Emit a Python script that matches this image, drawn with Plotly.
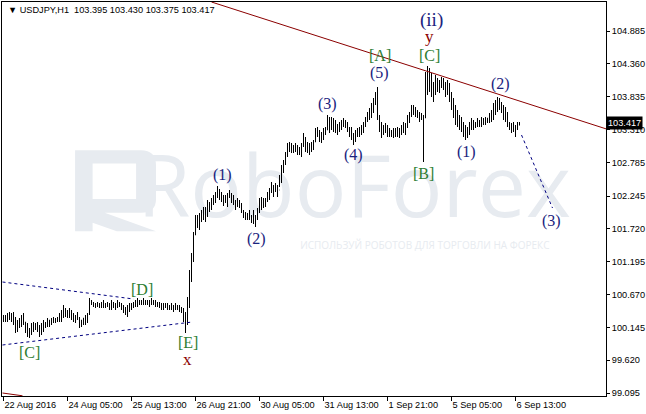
import plotly.graph_objects as go

# ---------------- data (USDJPY H1) ----------------
high = [100.343,100.343,100.375,100.391,100.375,100.391,100.311,100.263,100.295,100.343,
        100.375,100.231,100.215,100.135,100.215,100.231,100.215,100.231,100.183,100.215,
        100.263,100.231,100.295,100.263,100.295,100.311,100.295,100.311,100.375,100.423,
        100.503,100.455,100.423,100.455,100.423,100.375,100.343,100.391,100.311,100.263,
        100.295,100.343,100.375,100.615,100.583,100.551,100.535,100.551,100.535,100.551,
        100.583,100.535,100.551,100.535,100.583,100.551,100.535,100.583,100.551,100.535,
        100.503,100.471,100.503,100.535,100.535,100.551,100.583,100.615,100.583,100.583,
        100.615,100.583,100.583,100.583,100.615,100.583,100.583,100.551,100.551,100.535,
        100.535,100.535,100.535,100.503,100.535,100.503,100.535,100.503,100.503,100.471,
        100.455,100.391,100.631,101.063,101.335,101.671,101.943,101.943,101.975,102.023,
        102.071,102.071,102.183,102.151,102.215,102.263,102.311,102.407,102.359,102.311,
        102.263,102.263,102.295,102.343,102.295,102.263,102.183,102.215,102.183,102.135,
        102.023,101.991,101.975,102.023,101.943,102.023,101.943,102.055,102.215,102.231,
        102.215,102.215,102.311,102.375,102.471,102.423,102.455,102.423,102.583,102.743,
        102.823,102.951,103.095,103.111,103.095,103.063,103.095,103.063,103.031,103.095,
        103.255,103.191,103.111,103.095,103.111,103.143,103.335,103.351,103.303,103.271,
        103.335,103.351,103.543,103.511,103.511,103.495,103.463,103.399,103.431,103.463,
        103.495,103.463,103.431,103.351,103.351,103.255,103.303,103.335,103.351,103.383,
        103.431,103.511,103.591,103.655,103.735,103.815,103.911,103.991,103.543,103.431,
        103.383,103.415,103.383,103.335,103.303,103.335,103.335,103.351,103.335,103.383,
        103.431,103.415,103.543,103.591,103.703,103.703,103.671,103.623,103.591,103.575,
        103.543,104.231,104.327,104.295,104.215,104.071,104.183,104.135,104.103,104.151,
        104.135,104.071,104.103,104.055,103.911,103.815,103.703,103.623,103.543,103.511,
        103.431,103.383,103.351,103.431,103.495,103.463,103.431,103.495,103.463,103.511,
        103.495,103.511,103.495,103.575,103.623,103.735,103.783,103.831,103.815,103.751,
        103.703,103.671,103.591,103.431,103.415,103.431,103.383,103.431,103.430]

low = [100.231,100.231,100.231,100.263,100.231,100.183,100.055,100.071,100.135,100.151,
       100.183,100.055,99.991,99.975,100.023,100.071,100.103,100.071,99.991,100.023,
       100.071,100.135,100.151,100.151,100.183,100.215,100.215,100.231,100.231,100.231,
       100.295,100.311,100.295,100.295,100.263,100.231,100.215,100.263,100.135,100.151,
       100.183,100.183,100.215,100.343,100.503,100.471,100.455,100.471,100.455,100.455,
       100.455,100.455,100.471,100.423,100.423,100.455,100.423,100.455,100.471,100.423,
       100.375,100.343,100.311,100.391,100.423,100.455,100.471,100.471,100.503,100.503,
       100.503,100.503,100.503,100.471,100.503,100.503,100.471,100.471,100.455,100.423,
       100.423,100.455,100.423,100.423,100.423,100.391,100.423,100.423,100.391,100.375,
       100.231,100.055,100.183,100.455,100.871,101.191,101.623,101.735,101.703,101.831,
       101.863,101.831,101.911,101.991,102.023,102.103,102.135,102.215,102.183,102.151,
       102.087,102.135,102.071,102.215,102.135,102.103,102.023,102.071,102.055,101.975,
       101.895,101.863,101.863,101.863,101.815,101.799,101.751,101.863,101.975,102.023,
       102.055,102.071,102.151,102.183,102.295,102.231,102.311,102.231,102.391,102.455,
       102.615,102.743,102.871,102.951,102.935,102.935,102.951,102.903,102.903,102.871,
       103.031,102.951,102.935,102.903,102.951,102.983,103.111,103.191,103.111,103.095,
       103.143,103.223,103.303,103.255,103.303,103.271,103.255,103.223,103.271,103.303,
       103.351,103.335,103.271,103.191,103.143,103.063,103.111,103.191,103.191,103.223,
       103.255,103.351,103.431,103.463,103.495,103.575,103.703,103.463,103.271,103.175,
       103.223,103.255,103.191,103.191,103.191,103.175,103.191,103.191,103.175,103.223,
       103.255,103.223,103.335,103.415,103.511,103.543,103.511,103.495,103.431,103.463,
       102.791,103.495,103.863,103.911,103.831,103.751,103.863,103.911,103.895,103.975,
       103.943,103.831,103.863,103.751,103.623,103.495,103.383,103.351,103.303,103.271,
       103.191,103.143,103.175,103.223,103.303,103.303,103.335,103.351,103.351,103.351,
       103.383,103.383,103.415,103.415,103.431,103.463,103.543,103.591,103.623,103.575,
       103.463,103.431,103.351,103.303,103.255,103.271,103.191,103.303,103.375]

close = [100.295,100.327,100.359,100.295,100.359,100.231,100.183,100.231,100.263,100.311,
         100.231,100.103,100.103,100.103,100.183,100.167,100.183,100.135,100.103,100.151,
         100.215,100.215,100.231,100.263,100.263,100.263,100.263,100.295,100.343,100.391,
         100.423,100.391,100.391,100.359,100.311,100.295,100.311,100.295,100.231,100.263,
         100.295,100.295,100.359,100.551,100.519,100.503,100.519,100.503,100.503,100.535,
         100.487,100.519,100.503,100.487,100.519,100.487,100.503,100.535,100.503,100.455,
         100.423,100.391,100.455,100.487,100.503,100.519,100.551,100.551,100.551,100.535,
         100.567,100.551,100.551,100.535,100.551,100.535,100.519,100.503,100.487,100.487,
         100.487,100.487,100.471,100.487,100.471,100.471,100.471,100.455,100.455,100.423,
         100.295,100.343,100.583,100.983,101.255,101.623,101.831,101.863,101.943,101.943,
         101.991,102.023,102.103,102.103,102.183,102.215,102.295,102.311,102.263,102.231,
         102.183,102.215,102.263,102.263,102.183,102.151,102.135,102.135,102.103,101.991,
         101.943,101.943,101.943,101.895,101.911,101.863,101.927,102.023,102.151,102.135,
         102.151,102.183,102.263,102.311,102.343,102.375,102.343,102.343,102.503,102.695,
         102.791,102.903,103.015,103.015,103.031,103.015,102.983,102.983,102.983,103.063,
         103.063,103.015,103.015,103.031,103.063,103.111,103.223,103.255,103.223,103.223,
         103.303,103.303,103.431,103.383,103.383,103.351,103.335,103.351,103.383,103.431,
         103.415,103.383,103.303,103.255,103.223,103.175,103.255,103.303,103.303,103.351,
         103.383,103.463,103.543,103.623,103.703,103.783,103.863,103.495,103.383,103.303,
         103.335,103.303,103.271,103.255,103.271,103.255,103.303,103.271,103.303,103.351,
         103.335,103.383,103.495,103.543,103.623,103.623,103.591,103.543,103.495,103.511,
         103.495,104.135,104.103,104.023,103.943,104.023,103.975,104.023,104.071,104.055,
         104.023,103.975,103.943,103.815,103.703,103.591,103.511,103.463,103.383,103.351,
         103.303,103.271,103.303,103.383,103.383,103.383,103.415,103.431,103.431,103.463,
         103.463,103.463,103.495,103.543,103.591,103.703,103.751,103.783,103.703,103.671,
         103.591,103.495,103.383,103.351,103.335,103.335,103.351,103.395,103.417]

# open of each hour = close of the previous hour
open_ = [100.300] + close[:-1]
bars = list(range(len(close)))

xtick_pos = [0, 32, 64, 96, 128, 160, 192, 224, 256]
xtick_text = ["22 Aug 2016", "24 Aug 05:00", "25 Aug 13:00", "26 Aug 21:00",
              "30 Aug 05:00", "31 Aug 13:00", "1 Sep 21:00", "5 Sep 05:00", "6 Sep 13:00"]
ytick_vals = [99.095, 99.620, 100.145, 100.670, 101.195, 101.720, 102.245,
              102.785, 103.310, 103.835, 104.360, 104.885]
ytick_text = ["99.095", "99.620", "100.145", "100.670", "101.195", "101.720", "102.245",
              "102.785", "103.310", "103.835", "104.360", "104.885"]

# drawn lines (bar index, price)
trend_x = [104, 301.5]
trend_y = [105.351, 103.319]
trend2_x = [-0.5, 9.5]
trend2_y = [99.095, 99.050]
tri_upper_x = [-0.5, 65]
tri_upper_y = [100.871, 100.599]
tri_lower_x = [-0.5, 94.5]
tri_lower_y = [99.863, 100.231]
proj_x = [259, 274.5]
proj_y = [103.223, 102.055]

# wave labels: (text, bar index, price, kind)
wave_labels = [
    ("(1)", 109.5, 102.583, "w"), ("(2)", 126.5, 101.559, "w"),
    ("(3)", 162, 103.719, "w"), ("(4)", 175, 102.903, "w"),
    ("(5)", 188, 104.215, "w"), ("[A]", 188, 104.503, "g"),
    ("(ii)", 214, 105.063, "big"), ("y", 213, 104.807, "r"),
    ("[C]", 213, 104.503, "g"), ("[B]", 210, 102.615, "g"),
    ("(1)", 231.5, 102.951, "w"), ("(2)", 248.5, 104.039, "w"),
    ("(3)", 274, 101.847, "w"), ("[D]", 69, 100.759, "g"),
    ("[C]", 13, 99.751, "g"), ("[E]", 92, 99.911, "g"),
    ("x", 92, 99.639, "r"),
]

last_price = 103.417
title_text = "USDJPY,H1  103.395 103.430 103.375 103.417"

# ---------------- figure ----------------
FONT = "Liberation Sans"
FS = 9.2
fig = go.Figure()

fig.add_trace(go.Ohlc(
    x=bars, open=open_, high=high, low=low, close=close,
    increasing=dict(line=dict(color="black", width=1)),
    decreasing=dict(line=dict(color="black", width=1)),
    tickwidth=0.25, hoverinfo="skip", showlegend=False))

line_kw = dict(mode="lines", hoverinfo="skip", showlegend=False)
for xs, ys in [(trend_x, trend_y), (trend2_x, trend2_y)]:
    fig.add_trace(go.Scatter(x=xs, y=ys, line=dict(color="#8b0000", width=1), **line_kw))
for xs, ys in [(tri_upper_x, tri_upper_y), (tri_lower_x, tri_lower_y), (proj_x, proj_y)]:
    fig.add_trace(go.Scatter(x=xs, y=ys, line=dict(color="#000080", width=1, dash="3px,3px"), **line_kw))

styles = {
    "w": dict(color="#1a237e", size=16),
    "big": dict(color="#1a237e", size=19),
    "g": dict(color="#2e7d32", size=16),
    "r": dict(color="#8b0000", size=17),
}
for txt, xi, yp, kind in wave_labels:
    st = styles[kind]
    fig.add_annotation(x=xi, y=yp, text=txt, showarrow=False, xanchor="center", yanchor="middle",
                       font=dict(family="Liberation Serif", size=st["size"], color=st["color"]))

# header
fig.add_annotation(xref="paper", yref="paper", x=0.006, y=0.997, xanchor="left", yanchor="top",
                   text="▼ " + title_text, showarrow=False,
                   font=dict(family=FONT, size=FS, color="black"))
# current price box
fig.add_annotation(xref="paper", yref="y", x=1.0, y=last_price, xanchor="left", yanchor="middle",
                   text=f"{last_price:.3f}", showarrow=False, bgcolor="black", borderpad=1,
                   xshift=0, font=dict(family=FONT, size=FS, color="white"))

# watermark (below the bars)
wm = "#e7ebf0"
fig.add_shape(type="rect", xref="paper", yref="paper", x0=0.25, x1=0.916, y0=0.45, y1=0.60,
              line=dict(width=0), fillcolor="rgba(0,0,0,0)", layer="below",
              label=dict(text="RoboForex", font=dict(family="Open Sans", size=86, color=wm),
                         textposition="middle center"))
fig.add_shape(type="rect", xref="paper", yref="paper", x0=0.50, x1=0.90, y0=0.36, y1=0.40,
              line=dict(width=0), fillcolor="rgba(0,0,0,0)", layer="below",
              label=dict(text="ИСПОЛЬЗУЙ РОБОТОВ ДЛЯ ТОРГОВЛИ НА ФОРЕКС",
                         font=dict(family="Open Sans", size=10, color=wm),
                         textposition="middle center"))
# logo mark
fig.add_shape(type="path", xref="paper", yref="paper", layer="below", line=dict(width=0),
              fillcolor=wm,
              path="M 0.121 0.624 L 0.230 0.624 Q 0.255 0.624 0.255 0.585 L 0.255 0.500 "
                   "Q 0.255 0.465 0.230 0.465 L 0.170 0.465 L 0.255 0.418 L 0.190 0.418 "
                   "L 0.150 0.440 L 0.150 0.418 L 0.121 0.418 Z "
                   "M 0.150 0.590 L 0.150 0.500 L 0.222 0.500 L 0.222 0.590 Z")

fig.update_layout(
    width=646, height=414, margin=dict(l=2, r=40, t=2, b=18, autoexpand=False),
    paper_bgcolor="white", plot_bgcolor="white",
    font=dict(family=FONT, size=FS, color="black"),
    showlegend=False, hovermode=False,
    xaxis=dict(range=[-0.75, 301.25], tickvals=xtick_pos, ticktext=xtick_text,
               ticks="outside", ticklen=4, tickcolor="black", showgrid=False, zeroline=False,
               showline=True, linecolor="black", linewidth=1, mirror=True, automargin=False,
               tickangle=0, ticklabelposition="outside right", rangeslider=dict(visible=False),
               tickfont=dict(family=FONT, size=FS, color="black")),
    yaxis=dict(range=[99.047, 105.351], side="right", tickvals=ytick_vals, ticktext=ytick_text,
               ticks="outside", ticklen=3, tickcolor="black", showgrid=False, zeroline=False,
               showline=True, linecolor="black", linewidth=1, mirror=True, automargin=False,
               tickfont=dict(family=FONT, size=FS, color="black")),
)

fig.write_html("out.html", config={"displayModeBar": False},
               post_script="document.body.style.margin='0px';document.body.style.padding='0px';")
